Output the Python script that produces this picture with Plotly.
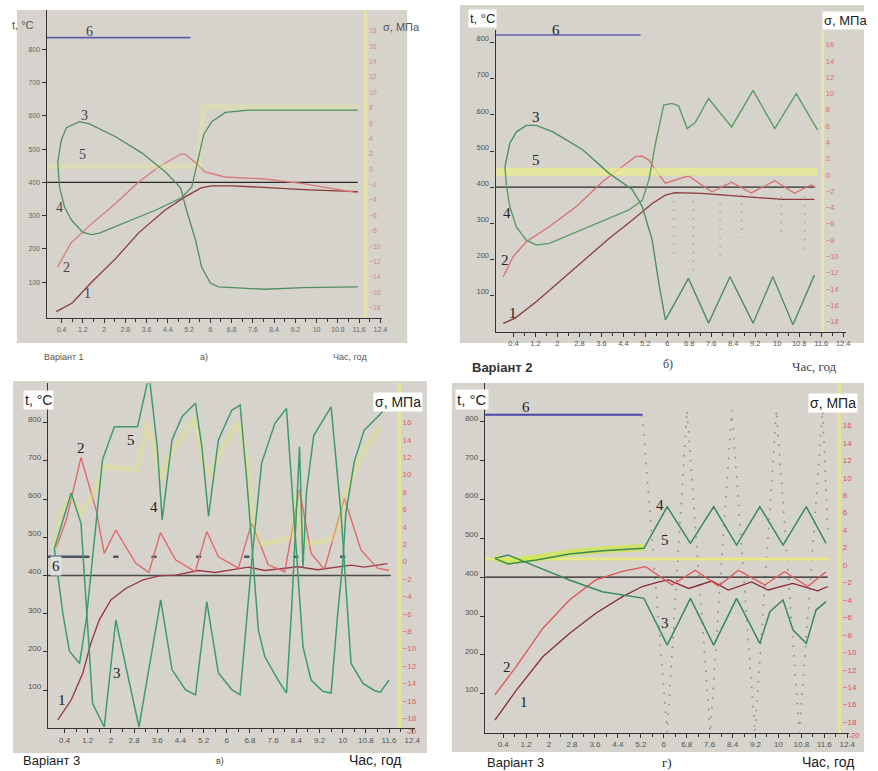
import plotly.graph_objects as go

W, H = 878, 771

# ---------------- shared tick data ----------------
x_tick_vals = [0.4, 1.2, 2.0, 2.8, 3.6, 4.4, 5.2, 6.0, 6.8, 7.6, 8.4, 9.2, 10.0, 10.8, 11.6, 12.4]
x_tick_text = ["0.4", "1.2", "2", "2.8", "3.6", "4.4", "5.2", "6", "6.8", "7.6", "8.4", "9.2", "10", "10.8", "11.6", "12.4"]
x_minor_vals = [0.8, 1.6, 2.4, 3.2, 4.0, 4.8, 5.6, 6.4, 7.2, 8.0, 8.8, 9.6, 10.4, 11.2, 12.0]
t_tick_vals = [100, 200, 300, 400, 500, 600, 700, 800]
s_tick_vals_a = [-18, -16, -14, -12, -10, -8, -6, -4, -2, 0, 2, 4, 6, 8, 10, 12, 14, 16, 18]
s_tick_vals = [-18, -16, -14, -12, -10, -8, -6, -4, -2, 0, 2, 4, 6, 8, 10, 12, 14, 16]

# ---------------- panel a (Варіант 1) ----------------
a1_x = [0.2, 0.8, 1.5, 2.45, 3.3, 4.3, 5.05, 5.65, 6.05, 6.8, 8.0, 9.5, 11.55]
a1_t = [11, 37, 97, 172, 248, 317, 356, 383, 389, 389, 385, 378, 372]
a2_x = [0.25, 0.75, 1.4, 2.45, 3.3, 4.05, 4.9, 5.05, 5.45, 5.8, 6.55, 8.05, 9.5, 11.55]
a2_t = [145, 217, 266, 338, 401, 446, 485, 485, 458, 431, 416, 410, 396, 368]
a3_x = [0.25, 0.39, 0.58, 1.07, 1.45, 2.45, 3.43, 4.32, 4.88, 5.1, 5.44, 5.67, 6.0, 6.3, 8.05, 9.5, 11.55]
a3_s = [0.8, 3.8, 5.4, 6.2, 5.9, 4.2, 2.1, -0.4, -2.4, -5.3, -9.2, -12.7, -14.8, -15.3, -15.6, -15.4, -15.3]
a4_x = [0.26, 0.32, 0.51, 0.77, 1.2, 1.52, 1.82, 3.06, 3.95, 4.92, 5.3, 5.56, 5.75, 6.05, 6.57, 7.43, 11.55]
a4_s = [0.8, -2.3, -4.9, -6.6, -8.2, -8.5, -8.3, -6.6, -5.3, -3.7, -2.3, 1.6, 4.5, 6.2, 7.4, 7.7, 7.7]
a5_x = [-0.15, 5.55, 5.75, 11.55]
a5_s = [0.4, 0.4, 8.1, 8.1]
a6_x = [-0.16, 5.25]
a6_t = [835, 835]
a0_x = [-0.16, 11.55]
a0_t = [400, 400]

# ---------------- panel b (Варіант 2) ----------------
b1_x = [0.03, 0.45, 1.23, 2.2, 3.04, 3.88, 4.73, 5.45, 5.93, 6.29, 7.26, 8.46, 9.66, 10.2, 11.35]
b1_t = [23, 37, 83, 148, 203, 258, 309, 355, 378, 385, 383, 376, 369, 366, 366]
b2_x = [0.03, 0.39, 0.87, 1.71, 2.68, 3.64, 4.37, 4.85, 5.09, 5.33, 5.57, 5.93, 6.77, 7.62, 8.34, 9.06, 9.91, 10.63, 11.23, 11.4]
b2_t = [152, 208, 249, 291, 346, 415, 457, 485, 486, 475, 447, 411, 431, 387, 414, 384, 418, 383, 406, 400]
b3_x = [0.09, 0.27, 0.51, 0.87, 1.23, 1.84, 2.92, 3.88, 4.73, 5.09, 5.45, 5.69, 5.93, 6.77, 7.5, 8.28, 9.12, 9.84, 10.57, 11.35]
b3_s = [1.0, 3.9, 5.3, 6.1, 6.1, 5.3, 3.1, 0.2, -1.8, -3.9, -8.0, -13.3, -17.8, -12.7, -18.2, -12.5, -18.2, -12.5, -18.4, -12.3]
b4_x = [0.09, 0.15, 0.27, 0.51, 0.87, 1.23, 1.71, 2.68, 3.64, 4.6, 5.09, 5.33, 5.57, 5.87, 6.17, 6.41, 6.72, 7.01, 7.5, 8.34, 9.12, 9.91, 10.69, 11.47]
b4_s = [1.0, -1.4, -3.9, -6.4, -8.0, -8.6, -8.4, -7.0, -5.7, -4.3, -3.1, -0.6, 3.9, 8.6, 8.8, 8.5, 5.7, 6.4, 9.4, 5.9, 10.4, 5.7, 10.0, 5.5]
b5_x = [-0.25, 11.45]
b5_s = [0.4, 0.4]
b6_x = [-0.27, 5.03]
b6_t = [821, 821]
b6d_x = [6.23, 6.23, None, 6.95, 6.95, None, 7.92, 7.92, None, 8.7, 8.7, None, 10.15, 10.15, None, 11.0, 11.0]
b6d_t = [385, 200, None, 385, 170, None, 380, 190, None, 380, 260, None, 375, 260, None, 375, 210]
b0_x = [-0.25, 11.35]
b0_t = [400, 400]

# ---------------- panel c (Варіант 3, в) ----------------
c1_x = [0.17, 0.63, 1.03, 1.31, 1.6, 2.0, 2.51, 3.09, 3.66, 4.23, 5.03, 5.6, 6.74, 7.31, 8.46, 9.14, 10.29, 10.74, 11.54]
c1_t = [22, 74, 144, 223, 284, 336, 366, 388, 399, 401, 413, 408, 422, 413, 423, 415, 427, 422, 431]
c2_x = [0.11, 0.46, 0.97, 1.49, 1.77, 2.17, 2.86, 3.31, 3.71, 4.23, 4.91, 5.31, 5.71, 6.4, 6.86, 7.43, 8.0, 8.51, 8.91, 9.37, 10.06, 10.63, 11.2, 11.6]
c2_t = [472, 545, 709, 572, 458, 519, 432, 408, 512, 441, 410, 515, 449, 419, 537, 428, 410, 624, 458, 416, 602, 467, 419, 413]
c3_x = [0.05, 0.63, 0.97, 1.26, 1.37, 1.77, 2.17, 2.97, 3.72, 4.11, 4.57, 4.92, 5.31, 5.71, 6.17, 6.46, 6.69, 6.86, 7.2, 7.66, 8.06, 8.23, 8.46, 8.63, 8.91, 9.31, 9.6, 9.83, 10.0, 10.11, 10.4, 10.74, 11.31, 11.5]
c3_s = [1.5, 7.9, 4.4, -9.8, -16.3, -19.0, -6.7, -19.0, -4.4, -12.4, -14.7, -15.3, -4.6, -12.8, -14.7, -15.3, -5.9, 0.0, 11.3, 15.9, 17.6, 9.4, -0.6, -9.8, -13.6, -14.9, -15.1, -5.9, -0.2, 5.6, 11.5, 15.1, 17.0, 17.8]
c4_x = [0.05, 0.34, 0.57, 0.92, 1.15, 1.43, 1.71, 2.12, 2.92, 3.32, 3.6, 3.77, 4.11, 4.46, 4.92, 5.14, 5.37, 5.71, 6.17, 6.46, 6.69, 6.91, 7.09, 7.31, 7.77, 8.06, 8.23, 8.4, 8.51, 8.63, 8.75, 9.0, 9.6, 9.94, 10.12, 10.29, 10.7, 11.09, 11.3, 11.6]
c4_s = [1.5, -5.9, -10.3, -11.7, -6.7, 2.9, 11.7, 15.5, 15.5, 21.5, 13.2, 4.8, 14.0, 16.7, 18.2, 13.2, 5.2, 14.0, 17.4, 18.0, 9.4, 0.0, -7.9, -10.9, -13.6, -15.1, -5.9, 5.6, 13.2, -0.6, 8.0, 14.5, 17.8, 5.6, -3.0, -11.7, -14.0, -14.8, -15.0, -13.6]
c5_x = [0.05, 0.25, 0.6, 1.0, 1.5, 1.75, 2.9, 3.25, 3.55, 3.75, 4.0, 4.9, 5.2, 5.45, 5.75, 6.4, 6.7, 6.95, 7.2, 8.0, 8.25, 8.45, 8.6, 9.6, 9.85, 10.05, 10.3, 10.8, 11.3]
c5_s = [1.5, 5.5, 7.5, 5.5, 8.5, 11.0, 10.5, 16.0, 12.0, 9.5, 12.0, 16.5, 11.0, 10.0, 12.5, 16.0, 12.0, 3.5, 2.0, 2.5, 3.0, 8.0, 2.0, 2.5, 4.0, 7.5, 9.5, 13.0, 15.5]
c6_x = [-0.17, 1.26, None, 2.08, 2.26, None, 3.4, 3.58, None, 4.94, 5.12, None, 6.6, 6.78, None, 8.29, 8.47, None, 9.91, 10.09]
c6_t = [449, 449, None, 449, 449, None, 449, 449, None, 449, 449, None, 449, 449, None, 449, 449, None, 449, 449]
c0_x = [-0.17, 11.66]
c0_t = [400, 400]

# ---------------- panel d (Варіант 3, г) ----------------
d1_x = [0.11, 0.86, 1.78, 2.71, 3.63, 4.56, 5.25, 5.83, 6.17, 6.87, 7.68, 8.25, 9.06, 9.64, 10.5, 11.37, 11.72]
d1_t = [32, 109, 195, 255, 307, 350, 376, 388, 393, 371, 390, 367, 388, 367, 384, 365, 376]
d2_x = [0.11, 0.86, 1.78, 2.71, 3.63, 4.56, 5.37, 6.29, 7.1, 7.91, 8.6, 9.52, 10.21, 11.02, 11.66]
d2_t = [97, 170, 268, 341, 393, 415, 427, 380, 418, 377, 418, 380, 414, 376, 414]
d3_x = [0.11, 0.57, 1.56, 2.71, 3.86, 5.02, 5.31, 6.12, 6.93, 7.74, 8.54, 9.35, 9.7, 10.16, 10.51, 10.97, 11.31, 11.66]
d3_s = [0.76, 1.15, -0.19, -1.72, -3.06, -3.63, -3.82, -9.17, -3.82, -9.17, -3.82, -8.98, -5.35, -4.01, -7.45, -8.98, -5.16, -4.2]
d4_x = [0.11, 0.57, 1.56, 2.71, 3.86, 5.31, 6.12, 6.93, 7.74, 8.54, 9.35, 10.16, 10.97, 11.66]
d4_s = [0.76, 0.11, 0.57, 1.26, 1.64, 1.91, 6.68, 2.48, 6.68, 2.29, 6.68, 2.29, 6.68, 2.48]
d5_x = [0.11, 0.57, 1.56, 2.71, 3.86, 5.31]
d5_s = [0.8, 0.4, 0.8, 1.4, 1.75, 2.0]
d5h_x = [-0.23, 11.75]
d5h_s = [0.69, 0.69]
d6_x = [-0.23, 5.25]
d6_t = [818, 818]
d6d_x = [5.25, 6.12, 6.81, 7.62, 8.37, 9.18, 9.93, 10.73, 11.54, 11.72]
d6d_t = [818, 0, 830, 0, 830, 0, 830, 0, 830, 520]
d0_x = [-0.23, 11.72]
d0_t = [400, 400]

# ---------------- layout helpers ----------------
def px(x):
    return x / W

def py(y):
    return 1 - y / H

panels = [
    dict(xdom=(47, 385), ydom=(318, 10), xr=(-0.161, 12.475), tr=(-8.1, 918.2), sr=(-19.34, 20.71), rpos=368,
         stv=s_tick_vals_a, shift=0, fs=7, lab="#666", slab="#d88a8a", sline="#e8e4a8"),
    dict(xdom=(499, 852), ydom=(331.7, 30), xr=(-0.249, 12.508), tr=(0, 835), sr=(-19.25, 17.81), rpos=828,
         stv=s_tick_vals, shift=-4, fs=7.5, lab="#555", slab="#e07070", sline="#e6e4a0"),
    dict(xdom=(48.3, 418), ydom=(728.3, 383.3), xr=(-0.171, 12.50), tr=(0, 903.1), sr=(-19.15, 20.5), rpos=401.7,
         stv=s_tick_vals, shift=-4, fs=8, lab="#555", slab="#e06060", sline="#e4e49a"),
    dict(xdom=(488.3, 855), ydom=(732.5, 383.3), xr=(-0.236, 12.466), tr=(0, 899.3), sr=(-19.19, 20.82), rpos=845,
         stv=s_tick_vals, shift=-4, fs=8, lab="#555", slab="#e05050", sline="#e4e49a"),
]

fig = go.Figure()
layout = dict(width=W, height=H, margin=dict(l=0, r=0, t=0, b=0), paper_bgcolor="white",
              plot_bgcolor="rgba(0,0,0,0)", showlegend=False)

for i, p in enumerate(panels):
    xn = "xaxis" if i == 0 else f"xaxis{i+1}"
    xid = "x" if i == 0 else f"x{i+1}"
    ylid = "y" if i == 0 else f"y{2*i+1}"
    yln = "yaxis" if i == 0 else f"yaxis{2*i+1}"
    yrn = f"yaxis{2*i+2}"
    layout[xn] = dict(domain=[px(p["xdom"][0]), px(p["xdom"][1])], anchor=ylid, range=list(p["xr"]),
                      tickvals=x_tick_vals, ticktext=x_tick_text, ticks="outside", ticklen=4, tickcolor="#333",
                      minor=dict(tickvals=x_minor_vals, ticks="outside", ticklen=3, tickcolor="#333"),
                      showline=True, linecolor="#333", linewidth=1.2, showgrid=False, zeroline=False,
                      tickfont=dict(size=p["fs"], color=p["lab"], family="Liberation Sans"))
    layout[yln] = dict(domain=[py(p["ydom"][0]), py(p["ydom"][1])], anchor=xid, range=list(p["tr"]),
                       tickvals=t_tick_vals, ticks="outside", ticklen=4, tickcolor="#333",
                       showline=True, linecolor="#333", linewidth=1.2, showgrid=False, zeroline=False,
                       ticklabelshift=p["shift"],
                       tickfont=dict(size=p["fs"], color=p["lab"], family="Liberation Sans"))
    layout[yrn] = dict(overlaying=ylid, side="right", anchor="free", position=px(p["rpos"]), range=list(p["sr"]),
                       tickvals=p["stv"], ticks="", showline=True, linecolor=p["sline"], linewidth=3,
                       showgrid=False, zeroline=False,
                       tickfont=dict(size=p["fs"], color=p["slab"], family="Liberation Sans"))

def line(x, y, i, right, color, width=1.3, dash="solid"):
    xid = "x" if i == 0 else f"x{i+1}"
    yid = (f"y{2*i+2}") if right else ("y" if i == 0 else f"y{2*i+1}")
    fig.add_trace(go.Scatter(x=x, y=y, mode="lines", xaxis=xid, yaxis=yid, hoverinfo="skip",
                             line=dict(color=color, width=width, dash=dash), connectgaps=False))

# panel a
line(a5_x, a5_s, 0, True, "rgba(236,236,150,0.35)", 6)
line(a0_x, a0_t, 0, False, "#2a2a2a", 1.3)
line(a6_x, a6_t, 0, False, "#5c5caa", 1.6)
line(a1_x, a1_t, 0, False, "#8e3a3a", 1.3)
line(a2_x, a2_t, 0, False, "#d97a7a", 1.3)
line(a3_x, a3_s, 0, True, "#4f8f62", 1.3)
line(a4_x, a4_s, 0, True, "#4f8f62", 1.3)

# panel b
line(b5_x, b5_s, 1, True, "rgba(232,238,140,0.75)", 8)
line(b6d_x, b6d_t, 1, False, "rgba(110,110,110,0.5)", 1.2, "1.5px,7px")
line(b0_x, b0_t, 1, False, "#2a2a2a", 1.3)
line(b6_x, b6_t, 1, False, "#6262b0", 1.6)
line(b1_x, b1_t, 1, False, "#8e3a3a", 1.3)
line(b2_x, b2_t, 1, False, "#d97070", 1.3)
line(b3_x, b3_s, 1, True, "#4d8f62", 1.4)
line(b4_x, b4_s, 1, True, "#5a9e66", 1.4)

# panel c
line(c5_x, c5_s, 2, True, "rgba(228,236,110,0.35)", 5)
line(c0_x, c0_t, 2, False, "#4a4a4a", 1.6)
line(c6_x, c6_t, 2, False, "#4a5464", 2.5)
line(c1_x, c1_t, 2, False, "#9a3a4a", 1.4)
line(c2_x, c2_t, 2, False, "#e06a6a", 1.4)
line(c3_x, c3_s, 2, True, "#3f9a6c", 1.5)
line(c4_x, c4_s, 2, True, "#3f9a6c", 1.5)

# panel d
line(d5h_x, d5h_s, 3, True, "rgba(236,236,120,0.85)", 3)
line(d5_x, d5_s, 3, True, "rgba(205,232,70,0.75)", 7)
line(d6d_x, d6d_t, 3, False, "#8e8e8e", 1.6, "1.6px,8px")
line(d0_x, d0_t, 3, False, "#222", 1.3)
line(d6_x, d6_t, 3, False, "#4848a8", 2)
line(d1_x, d1_t, 3, False, "#8a2a3a", 1.3)
line(d2_x, d2_t, 3, False, "#e05555", 1.3)
line(d3_x, d3_s, 3, True, "#3a8a5a", 1.5)
line(d4_x, d4_s, 3, True, "#3a8a5a", 1.5)

# gray panel backgrounds
bgs = [(17, 10, 410, 343), (463, 5, 870, 343), (13, 381, 430, 753), (455, 383, 870, 752)]
layout["shapes"] = [dict(type="rect", xref="paper", yref="paper", x0=px(a), x1=px(c), y0=py(d), y1=py(b),
                         fillcolor="#d6d2cc", line=dict(width=0), layer="below") for a, b, c, d in bgs]

def ann(text, x, y, size, color="#222", family="Liberation Sans", bg=None):
    d = dict(text=text, x=px(x), y=py(y), xref="paper", yref="paper", showarrow=False,
             font=dict(size=size, color=color, family=family), xanchor="center", yanchor="middle")
    if bg:
        d["bgcolor"] = bg
        d["borderpad"] = 1
    return d

serif = "Liberation Serif"
anns = []
# curve numbers
for txt, x, y, sz, col in [
    ("1", 88, 293, 14, "#444"), ("2", 67, 267, 14, "#444"), ("3", 85, 115, 14, "#444"),
    ("4", 60, 208, 14, "#444"), ("5", 83, 155, 14, "#444"), ("6", 90, 32, 14, "#444"),
    ("1", 517, 313, 15, "#222"), ("2", 508, 260, 15, "#222"), ("3", 540, 117, 15, "#222"),
    ("4", 510, 213, 15, "#222"), ("5", 540, 160, 15, "#222"), ("6", 560, 30, 15, "#222"),
    ("1", 62, 700, 15, "#222"), ("2", 82, 448, 15, "#222"), ("3", 118, 673, 15, "#222"),
    ("4", 155, 507, 15, "#222"), ("5", 132, 440, 15, "#222"),
    ("1", 528, 702, 15, "#222"), ("2", 510, 667, 15, "#222"), ("3", 670, 623, 15, "#222"),
    ("4", 665, 505, 15, "#222"), ("5", 670, 540, 15, "#222"), ("6", 530, 407, 15, "#222"),
]:
    anns.append(ann(txt, x, y, sz, col, serif))
anns.append(ann("6", 56, 566, 15, "#222", serif, "#e2e0dc"))

# axis titles
anns += [
    ann("t, °C", 23, 25, 11, "#555"),
    ann("σ, МПа", 404, 27, 11, "#555"),
    ann("t, °C", 486, 18, 13, "#222", bg="white"),
    ann("σ, МПа", 851, 20, 13, "#222", bg="white"),
    ann("t, °C", 39, 400, 14, "#222", bg="white"),
    ann("σ, МПа", 401, 402, 14, "#222", bg="white"),
    ann("t, °C", 475, 399, 15, "#222", bg="white"),
    ann("σ, МПа", 839, 403, 14, "#222", bg="white"),
    ann("-20", 414, 731, 7, "#e06060"),
    ann("-20", 860, 735, 7, "#e05050"),
]
# captions
anns += [
    ann("Варіант 1", 64, 357, 9, "#555"),
    ann("а)", 205, 357, 9, "#555"),
    ann("Час, год", 352, 357, 9, "#555"),
    ann("<b>Варіант 2</b>", 505, 367, 13, "#333"),
    ann("б)", 673, 364, 12, "#444", serif),
    ann("Час, год", 820, 366, 13, "#444", serif),
    ann("Варіант 3", 52, 760, 13, "#222"),
    ann("в)", 222, 761, 9, "#444"),
    ann("Час, год", 378, 760, 14, "#222"),
    ann("Варіант 3", 519, 762, 13, "#222"),
    ann("г)", 672, 762, 13, "#222", serif),
    ann("Час, год", 834, 762, 14, "#222"),
]
layout["annotations"] = anns

fig.update_layout(**layout)
fig.write_html("out.html", config={"displayModeBar": False},
               post_script="document.body.style.margin='0px';document.body.style.overflow='hidden';")
